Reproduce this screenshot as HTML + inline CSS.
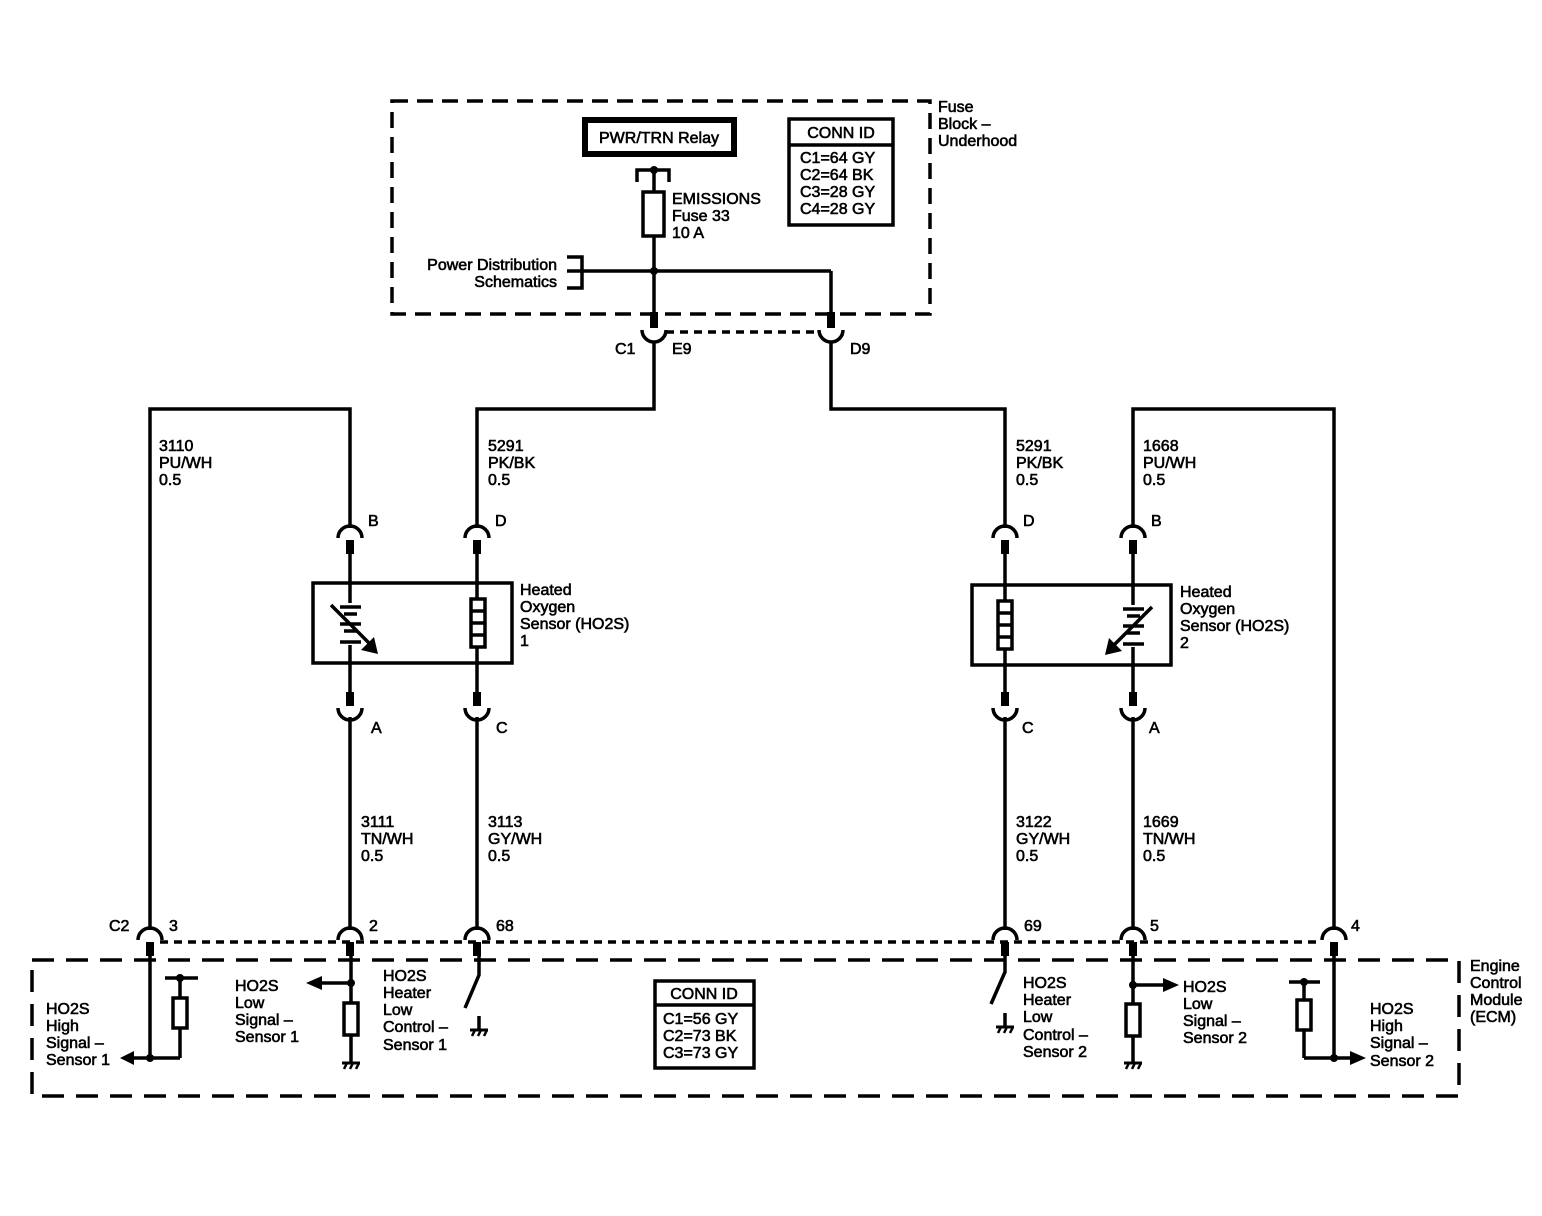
<!DOCTYPE html>
<html><head><meta charset="utf-8"><style>
html,body{margin:0;padding:0;background:#fff;}
svg{display:block;}
text{font-family:"Liberation Sans",Arial,sans-serif;font-size:16px;fill:#000;stroke:#000;stroke-width:0.6;}
</style></head><body>
<svg width="1542" height="1216" viewBox="0 0 1542 1216" xmlns="http://www.w3.org/2000/svg">
<defs>
<g id="gnd"><line x1="-9" y1="0" x2="9" y2="0" stroke="#000" stroke-width="3"/><line x1="-7" y1="6" x2="-4" y2="0" stroke="#000" stroke-width="2.5"/><line x1="-1" y1="6" x2="2" y2="0" stroke="#000" stroke-width="2.5"/><line x1="5" y1="6" x2="8" y2="0" stroke="#000" stroke-width="2.5"/></g>
<g id="conUp"><path d="M-12,12 A12,12 0 0 1 12,12" fill="none" stroke="#000" stroke-width="3.5"/><rect x="-4" y="14" width="8" height="14" fill="#000"/></g>
<g id="conDn"><rect x="-4" y="0" width="8" height="14" fill="#000"/><path d="M-12,16 A12,12 0 0 0 12,16" fill="none" stroke="#000" stroke-width="3.5"/></g>
</defs>
<g fill="none" stroke="#000" stroke-width="3.5">
<rect x="392" y="101" width="538" height="213" stroke-dasharray="16,9"/>
<rect x="585" y="120" width="149" height="34" stroke-width="6"/>
<rect x="789" y="119" width="104" height="106"/>
<line x1="789" y1="145" x2="893" y2="145"/>
<path d="M637,182 V170 H669 V182"/>
<line x1="654" y1="170" x2="654" y2="312"/>
<rect x="643" y="192" width="21" height="44" fill="#fff"/>
<line x1="567" y1="271" x2="831" y2="271"/>
<line x1="831" y1="271" x2="831" y2="312"/>
<path d="M567,257 H582 V288 H567"/>
<line x1="666" y1="332" x2="820" y2="332" stroke-dasharray="8,6"/>
<path d="M642,330 A12,12 0 0 0 666,330"/>
<path d="M819,330 A12,12 0 0 0 843,330"/>
<path d="M654,342 V409 H477 V528"/>
<path d="M831,342 V409 H1005 V528"/>
<path d="M150,930 V409 H350 V528"/>
<path d="M1334,930 V409 H1133 V528"/>
<line x1="350" y1="553" x2="350" y2="603"/><line x1="350" y1="645" x2="350" y2="692"/>
<line x1="477" y1="553" x2="477" y2="692"/>
<line x1="1005" y1="553" x2="1005" y2="692"/>
<line x1="1133" y1="553" x2="1133" y2="605"/><line x1="1133" y1="647" x2="1133" y2="692"/>
<line x1="350" y1="717" x2="350" y2="930"/>
<line x1="477" y1="717" x2="477" y2="930"/>
<line x1="1005" y1="717" x2="1005" y2="930"/>
<line x1="1133" y1="717" x2="1133" y2="930"/>
<rect x="313" y="583" width="199" height="80"/>
<rect x="972" y="585" width="199" height="80"/>
<rect x="471" y="599" width="14" height="48" fill="#fff"/>
<path d="M471,611 H485 M471,623 H485 M471,635 H485"/>
<rect x="998" y="601" width="14" height="48" fill="#fff"/>
<path d="M998,613 H1012 M998,625 H1012 M998,637 H1012"/>
<line x1="160" y1="942" x2="1322" y2="942" stroke-dasharray="8,6"/>
<rect x="32" y="960" width="1427" height="136" stroke-dasharray="22,12"/>
<rect x="655" y="981" width="99" height="87"/>
<line x1="655" y1="1005" x2="754" y2="1005"/>
<line x1="150" y1="955" x2="150" y2="1058"/>
<line x1="130" y1="1058" x2="180" y2="1058"/>
<path d="M180,1058 V1028 M180,998 V978 M165,978 H198"/>
<rect x="173" y="998" width="14" height="30"/>
<line x1="351" y1="955" x2="351" y2="1003"/><line x1="351" y1="1035" x2="351" y2="1063"/>
<rect x="344" y="1003" width="14" height="32"/>
<line x1="320" y1="983" x2="351" y2="983"/>
<path d="M479,955 V975 L465,1008 M479,1016 V1030"/>
<path d="M1005,955 V972 L991,1004 M1005,1013 V1027"/>
<line x1="1133" y1="955" x2="1133" y2="1004"/><line x1="1133" y1="1036" x2="1133" y2="1063"/>
<rect x="1126" y="1004" width="14" height="32"/>
<line x1="1133" y1="985" x2="1165" y2="985"/>
<line x1="1334" y1="955" x2="1334" y2="1058"/>
<line x1="1304" y1="1058" x2="1352" y2="1058"/>
<path d="M1304,1058 V1030 M1304,1000 V982 M1289,982 H1320"/>
<rect x="1297" y="1000" width="14" height="30"/>
</g>
<g stroke="#000" stroke-width="3.5">
<line x1="340" y1="607" x2="361" y2="607"/><line x1="344" y1="614" x2="357" y2="614"/>
<line x1="340" y1="624" x2="361" y2="624"/><line x1="344" y1="631" x2="357" y2="631"/>
<line x1="340" y1="642" x2="361" y2="642"/>
<line x1="331" y1="605" x2="370" y2="644"/>
<line x1="1123" y1="609" x2="1144" y2="609"/><line x1="1127" y1="616" x2="1140" y2="616"/>
<line x1="1123" y1="626" x2="1144" y2="626"/><line x1="1127" y1="633" x2="1140" y2="633"/>
<line x1="1123" y1="644" x2="1144" y2="644"/>
<line x1="1152" y1="607" x2="1113" y2="646"/>
</g>
<path d="M378,654 L361,650 L374,637 Z" fill="#000"/>
<path d="M1105,655 L1109,638 L1122,651 Z" fill="#000"/>
<path d="M120,1058 L134,1051 L134,1065 Z" fill="#000"/>
<path d="M306,983 L322,976 L322,990 Z" fill="#000"/>
<path d="M1179,985 L1163,978 L1163,992 Z" fill="#000"/>
<path d="M1366,1058 L1350,1051 L1350,1065 Z" fill="#000"/>
<g fill="#000">
<circle cx="654" cy="170" r="4"/><circle cx="654" cy="271" r="4"/>
<circle cx="150" cy="1058" r="4"/><circle cx="180" cy="978" r="4"/>
<circle cx="351" cy="983" r="4"/><circle cx="1133" cy="985" r="4"/>
<circle cx="1334" cy="1058" r="4"/><circle cx="1304" cy="982" r="4"/>
<rect x="650" y="312" width="8" height="16"/><rect x="827" y="312" width="8" height="16"/>
</g>
<use href="#gnd" x="351" y="1063"/><use href="#gnd" x="479" y="1030"/>
<use href="#gnd" x="1005" y="1027"/><use href="#gnd" x="1133" y="1063"/>
<use href="#conUp" x="350" y="526"/><use href="#conUp" x="477" y="526"/>
<use href="#conUp" x="1005" y="526"/><use href="#conUp" x="1133" y="526"/>
<use href="#conDn" x="350" y="692"/><use href="#conDn" x="477" y="692"/>
<use href="#conDn" x="1005" y="692"/><use href="#conDn" x="1133" y="692"/>
<use href="#conUp" x="150" y="928"/><use href="#conUp" x="350" y="928"/><use href="#conUp" x="477" y="928"/>
<use href="#conUp" x="1005" y="928"/><use href="#conUp" x="1133" y="928"/><use href="#conUp" x="1334" y="928"/>
<text x="659" y="143" text-anchor="middle">PWR/TRN Relay</text>
<text x="841" y="138" text-anchor="middle">CONN ID</text>
<text x="800" y="163">C1=64 GY</text><text x="800" y="180">C2=64 BK</text>
<text x="800" y="197">C3=28 GY</text><text x="800" y="214">C4=28 GY</text>
<text x="672" y="204">EMISSIONS</text><text x="672" y="221">Fuse 33</text><text x="672" y="238">10 A</text>
<text x="938" y="112">Fuse</text><text x="938" y="129">Block –</text><text x="938" y="146">Underhood</text>
<text x="557" y="270" text-anchor="end">Power Distribution</text>
<text x="557" y="287" text-anchor="end">Schematics</text>
<text x="615" y="354">C1</text><text x="672" y="354">E9</text><text x="850" y="354">D9</text>
<text x="159" y="451">3110</text><text x="159" y="468">PU/WH</text><text x="159" y="485">0.5</text>
<text x="488" y="451">5291</text><text x="488" y="468">PK/BK</text><text x="488" y="485">0.5</text>
<text x="1016" y="451">5291</text><text x="1016" y="468">PK/BK</text><text x="1016" y="485">0.5</text>
<text x="1143" y="451">1668</text><text x="1143" y="468">PU/WH</text><text x="1143" y="485">0.5</text>
<text x="368" y="526">B</text><text x="495" y="526">D</text><text x="1023" y="526">D</text><text x="1151" y="526">B</text>
<text x="371" y="733">A</text><text x="496" y="733">C</text><text x="1022" y="733">C</text><text x="1149" y="733">A</text>
<text x="520" y="595">Heated</text><text x="520" y="612">Oxygen</text><text x="520" y="629">Sensor (HO2S)</text><text x="520" y="646">1</text>
<text x="1180" y="597">Heated</text><text x="1180" y="614">Oxygen</text><text x="1180" y="631">Sensor (HO2S)</text><text x="1180" y="648">2</text>
<text x="361" y="827">3111</text><text x="361" y="844">TN/WH</text><text x="361" y="861">0.5</text>
<text x="488" y="827">3113</text><text x="488" y="844">GY/WH</text><text x="488" y="861">0.5</text>
<text x="1016" y="827">3122</text><text x="1016" y="844">GY/WH</text><text x="1016" y="861">0.5</text>
<text x="1143" y="827">1669</text><text x="1143" y="844">TN/WH</text><text x="1143" y="861">0.5</text>
<text x="109" y="931">C2</text><text x="169" y="931">3</text><text x="369" y="931">2</text><text x="496" y="931">68</text>
<text x="1024" y="931">69</text><text x="1150" y="931">5</text><text x="1351" y="931">4</text>
<text x="46" y="1014">HO2S</text><text x="46" y="1031">High</text><text x="46" y="1048">Signal –</text><text x="46" y="1065">Sensor 1</text>
<text x="235" y="991">HO2S</text><text x="235" y="1008">Low</text><text x="235" y="1025">Signal –</text><text x="235" y="1042">Sensor 1</text>
<text x="383" y="981">HO2S</text><text x="383" y="998">Heater</text><text x="383" y="1015">Low</text><text x="383" y="1032">Control –</text><text x="383" y="1050">Sensor 1</text>
<text x="704" y="999" text-anchor="middle">CONN ID</text>
<text x="663" y="1024">C1=56 GY</text><text x="663" y="1041">C2=73 BK</text><text x="663" y="1058">C3=73 GY</text>
<text x="1023" y="988">HO2S</text><text x="1023" y="1005">Heater</text><text x="1023" y="1022">Low</text><text x="1023" y="1040">Control –</text><text x="1023" y="1057">Sensor 2</text>
<text x="1183" y="992">HO2S</text><text x="1183" y="1009">Low</text><text x="1183" y="1026">Signal –</text><text x="1183" y="1043">Sensor 2</text>
<text x="1370" y="1014">HO2S</text><text x="1370" y="1031">High</text><text x="1370" y="1048">Signal –</text><text x="1370" y="1066">Sensor 2</text>
<text x="1470" y="971">Engine</text><text x="1470" y="988">Control</text><text x="1470" y="1005">Module</text><text x="1470" y="1022">(ECM)</text>
</svg>
</body></html>
